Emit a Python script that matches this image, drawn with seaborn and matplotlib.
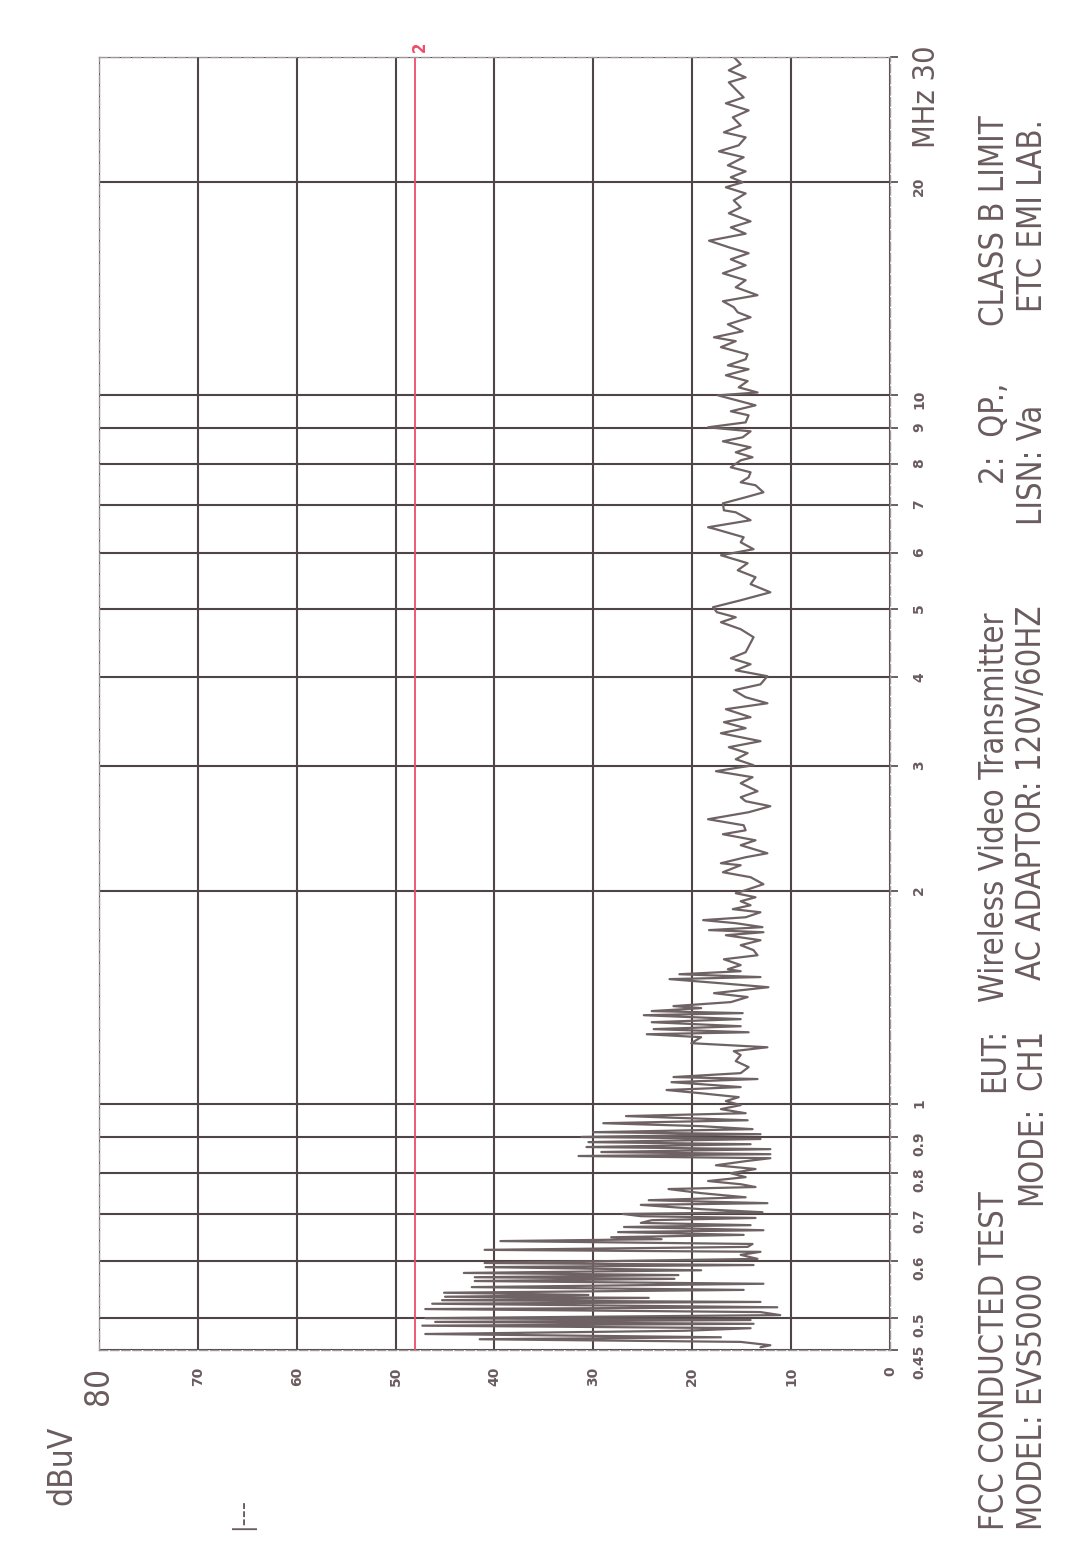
import matplotlib
matplotlib.use("Agg")
import matplotlib.pyplot as plt
from matplotlib.ticker import FixedLocator, NullLocator, FixedFormatter
import pandas as pd
import seaborn as sns

# ---- data ---------------------------------------------------------------
# 0.45 - 2 MHz : comb region (MHz / dBuV)
freq_low = [
    0.454, 0.457, 0.462, 0.466, 0.469, 0.474, 0.479, 0.483, 0.487, 0.490,
    0.493, 0.496, 0.499, 0.504, 0.509, 0.514, 0.517, 0.523, 0.526, 0.529,
    0.533, 0.535, 0.538, 0.542, 0.547, 0.552, 0.558, 0.563, 0.567, 0.570,
    0.574, 0.578, 0.583, 0.589, 0.593, 0.597, 0.605, 0.613, 0.619, 0.623,
    0.629, 0.635, 0.641, 0.645, 0.649, 0.654, 0.660, 0.664, 0.671, 0.675,
    0.680, 0.686, 0.691, 0.695, 0.700, 0.704, 0.711, 0.721, 0.725, 0.732,
    0.739, 0.749, 0.759, 0.764, 0.771, 0.779, 0.789, 0.799, 0.810, 0.820,
    0.831, 0.839, 0.845, 0.850, 0.856, 0.864, 0.870, 0.878, 0.884, 0.893,
    0.899, 0.907, 0.913, 0.922, 0.931, 0.940, 0.949, 0.962, 0.971, 0.984,
    0.997, 1.010, 1.023, 1.036, 1.047, 1.057, 1.067, 1.074, 1.085, 1.092,
    1.106, 1.128, 1.150, 1.173, 1.188, 1.203, 1.219, 1.243, 1.255, 1.263,
    1.276, 1.288, 1.305, 1.318, 1.335, 1.344, 1.353, 1.366, 1.375, 1.393,
    1.416, 1.434, 1.462, 1.481, 1.501, 1.511, 1.525, 1.540, 1.550, 1.571,
    1.601, 1.622, 1.649, 1.676, 1.703, 1.731, 1.748, 1.760, 1.777, 1.800,
    1.818, 1.835, 1.865, 1.884, 1.908, 1.933, 1.958, 1.984,
]
level_low = [
    13.1, 12.1, 15.1, 41.5, 17.1, 47.0, 20.8, 14.1, 47.3, 13.8,
    46.0, 14.1, 47.0, 11.1, 13.1, 47.0, 11.4, 46.3, 13.1, 45.3,
    24.4, 45.0, 30.5, 45.1, 14.8, 42.3, 12.8, 42.0, 21.8, 42.0,
    21.4, 43.1, 19.1, 40.9, 13.8, 41.0, 13.4, 15.1, 13.1, 41.0,
    14.4, 13.9, 39.4, 23.1, 28.2, 14.8, 27.5, 12.8, 26.9, 14.1,
    25.2, 24.1, 13.6, 25.2, 27.0, 12.9, 19.1, 25.2, 12.4, 24.4,
    14.6, 19.1, 22.4, 13.6, 15.1, 18.4, 14.6, 16.1, 13.6, 17.6,
    14.6, 12.1, 31.5, 12.1, 29.2, 12.1, 30.7, 14.1, 30.5, 13.1,
    31.2, 13.1, 30.0, 13.9, 19.1, 29.0, 14.4, 26.7, 14.6, 17.1,
    15.1, 16.6, 15.3, 19.1, 22.6, 15.1, 19.1, 22.1, 13.4, 21.9,
    15.1, 14.3, 15.6, 15.1, 15.8, 12.4, 20.1, 19.1, 24.6, 14.3,
    23.9, 15.1, 24.1, 15.1, 24.9, 14.9, 24.1, 19.1, 21.9, 16.1,
    14.4, 17.8, 12.3, 17.1, 22.3, 13.1, 21.3, 15.1, 16.4, 15.1,
    16.8, 13.4, 13.8, 15.1, 13.1, 16.6, 12.8, 18.3, 12.9, 15.6,
    18.9, 14.6, 13.1, 15.9, 14.1, 15.1, 13.6, 15.6,
]

# 2 - 30 MHz : noise floor
freq_high = [
    2.004, 2.043, 2.090, 2.124, 2.173, 2.187, 2.230, 2.259, 2.319, 2.356,
    2.403, 2.434, 2.474, 2.523, 2.581, 2.632, 2.675, 2.710, 2.763, 2.836,
    2.892, 2.949, 3.007, 3.066, 3.127, 3.188, 3.251, 3.336, 3.391, 3.458,
    3.514, 3.607, 3.677, 3.750, 3.836, 3.910, 4.015, 4.093, 4.174, 4.256,
    4.340, 4.557, 4.677, 4.784, 4.862, 4.942, 5.023, 5.138, 5.273, 5.414,
    5.537, 5.664, 5.795, 5.947, 6.065, 6.203, 6.305, 6.471, 6.513, 6.664,
    6.837, 6.882, 7.039, 7.179, 7.296, 7.465, 7.537, 7.661, 7.786, 7.913,
    8.095, 8.175, 8.308, 8.444, 8.610, 8.723, 8.894, 9.011, 9.157, 9.369,
    9.492, 9.678, 9.804, 9.997, 10.09, 10.26, 10.47, 10.67, 10.88, 11.02,
    11.24, 11.42, 11.69, 11.92, 12.07, 12.31, 12.59, 12.88, 13.09, 13.31,
    13.57, 13.84, 14.20, 14.53, 14.86, 15.25, 15.55, 15.86, 16.17, 16.52,
    16.90, 17.25, 17.59, 18.06, 18.41, 18.83, 19.26, 19.65, 19.97, 20.30,
    20.69, 21.10, 21.66, 22.08, 22.52, 23.11, 23.49, 24.02, 24.66, 25.22,
    25.81, 26.31, 27.01, 27.63, 28.08, 28.73, 29.30, 29.79, 30.00,
]
level_high = [
    14.6, 12.8, 14.1, 16.9, 15.1, 17.1, 14.6, 12.4, 15.1, 13.6,
    16.9, 14.6, 14.8, 18.4, 14.3, 12.1, 14.6, 15.1, 13.4, 15.1,
    13.9, 17.6, 13.8, 15.6, 14.4, 16.3, 13.1, 17.1, 14.6, 16.8,
    14.1, 16.6, 12.4, 14.6, 15.8, 13.1, 12.4, 15.6, 14.1, 16.1,
    14.6, 13.8, 15.1, 17.1, 15.6, 17.5, 17.9, 15.1, 12.1, 14.1,
    13.6, 15.4, 14.4, 17.1, 13.8, 15.1, 14.8, 17.6, 18.4, 14.1,
    15.6, 16.8, 16.9, 14.6, 12.8, 13.6, 15.1, 14.3, 14.1, 16.1,
    15.1, 13.9, 15.6, 14.1, 16.9, 14.9, 14.1, 18.4, 14.6, 14.3,
    16.1, 13.6, 15.1, 17.4, 13.4, 15.3, 14.4, 16.6, 14.3, 16.4,
    14.6, 14.4, 17.1, 15.6, 17.8, 14.9, 16.4, 14.1, 15.4, 15.8,
    16.9, 13.4, 15.6, 14.6, 16.9, 14.6, 16.1, 14.3, 16.3, 18.3,
    14.6, 16.1, 14.1, 16.3, 15.1, 15.8, 14.6, 16.6, 14.9, 16.1,
    14.6, 16.4, 14.8, 17.3, 15.3, 14.6, 16.8, 15.1, 15.9, 14.3,
    16.6, 14.8, 15.6, 16.3, 14.6, 16.3, 15.1, 15.6, 15.8,
]

limit_level = 48  # QP class B limit line (trace 2)
db_ticks = [0, 10, 20, 30, 40, 50, 60, 70, 80]
freq_ticks = [0.45, 0.5, 0.6, 0.7, 0.8, 0.9, 1, 2, 3, 4, 5, 6, 7, 8, 9, 10, 20, 30]
freq_tick_labels = ["0.45", "0.5", "0.6", "0.7", "0.8", "0.9", "1", "2", "3", "4",
                    "5", "6", "7", "8", "9", "10", "20", "MHz 30"]

# ---- figure --------------------------------------------------------------
W, H = 1089, 1547
GRID = "#4f4547"
TRACE = "#6e6264"
INK = "#6a5c5e"
RED = "#ee4d6b"

sns.set_style("white")
plt.rcParams['font.family'] = ['DejaVu Sans']

fig = plt.figure(figsize=(W / 100, H / 100), dpi=100)
fig.patch.set_facecolor("white")
ax = fig.add_axes([99 / W, 1 - 1350 / H, (890 - 99) / W, (1350 - 57) / H])

df = pd.DataFrame({
    "freq": freq_low + freq_high,
    "level": level_low + level_high,
})
sns.lineplot(data=df, x="level", y="freq", orient="y", sort=False,
             estimator=None, color=TRACE, lw=1.6, ax=ax)
ax.axvline(limit_level, color=RED, lw=1.3)

ax.set_yscale("log")
ax.set_xlim(80, 0)
ax.set_ylim(0.45, 30)
ax.xaxis.set_major_locator(FixedLocator(db_ticks))
ax.yaxis.set_major_locator(FixedLocator(freq_ticks))
ax.yaxis.set_major_formatter(FixedFormatter(freq_tick_labels))
ax.yaxis.set_minor_locator(NullLocator())
ax.set_xlabel("")
ax.set_ylabel("")

ax.grid(True, which="major", color=GRID, lw=1.5)
for s in ax.spines.values():
    s.set_color("#a09898")
    s.set_linewidth(1.0)
    s.set_linestyle((0, (6, 2)))

ax.yaxis.tick_right()
ax.tick_params(axis="x", length=0, pad=12, labelrotation=90, labelsize=10,
               labelcolor=INK)
ax.tick_params(axis="y", length=6, width=1.2, color=GRID, pad=10,
               labelrotation=90, labelsize=10, labelcolor=INK)
for lab in ax.get_xticklabels() + ax.get_yticklabels():
    lab.set_fontweight("bold")
ax.get_xticklabels()[-1].set_fontsize(24)
ax.get_xticklabels()[-1].set_fontweight("normal")
ax.get_xticklabels()[-1].set_fontstretch("condensed")
ytl = ax.get_yticklabels()
ytl[-1].set_fontsize(22)
ytl[-1].set_fontweight("normal")
ytl[-1].set_fontstretch("condensed")


def ftext(x, y, s, size=23.5, color=INK, **kw):
    kw.setdefault("fontstretch", "condensed")
    fig.text(x / W, 1 - y / H, s, rotation=90, rotation_mode="anchor",
             ha="left", va="center", fontsize=size, color=color,
             family=["DejaVu Sans"], **kw)


# limit marker, axis unit and legend stub
ftext(420, 52, "2", size=12, color=RED, fontweight="bold")
ftext(62, 1505, "dBuV", size=24)
ftext(243, 1530, "|---", size=18)

# header block (two lines, reading bottom to top)
x1, x2 = 995, 1032
ftext(x1, 1530, "FCC CONDUCTED TEST")
ftext(x1, 1092, "EUT:")
ftext(x1, 1002, "Wireless Video Transmitter")
ftext(x1, 484, "2:  QP.,")
ftext(x1, 326, "CLASS B LIMIT")
ftext(x2, 1530, "MODEL: EVS5000")
ftext(x2, 1205, "MODE:")
ftext(x2, 1090, "CH1")
ftext(x2, 980, "AC ADAPTOR: 120V/60HZ")
ftext(x2, 525, "LISN: Va")
ftext(x2, 312, "ETC EMI LAB.")

fig.savefig("out.png", dpi=100, facecolor="white")
